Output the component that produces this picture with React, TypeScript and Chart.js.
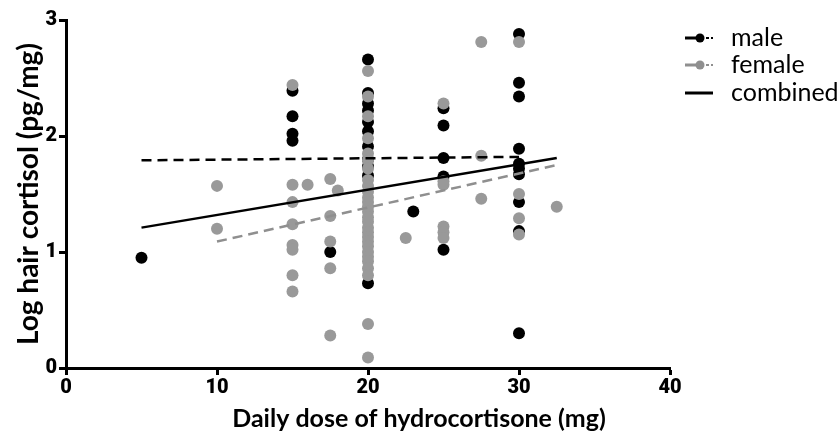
import { useEffect, useRef } from "react";
import { Chart, registerables } from "chart.js";

Chart.register(...registerables);

// Daily hydrocortisone dose (mg) and log hair cortisol (pg/mg), men
const maleDose = [
  5,
  15, 15, 15, 15,
  17.5,
  20, 20, 20, 20, 20, 20, 20, 20, 20, 20, 20,
  23,
  25, 25, 25, 25, 25,
  30, 30, 30, 30, 30, 30, 30, 30, 30, 30,
];
const maleCortisol = [
  0.95,
  2.39, 2.17, 2.02, 1.96,
  1.0,
  2.66, 2.37, 2.28, 2.22, 2.12, 2.04, 1.91, 1.8, 1.74, 1.66, 0.73,
  1.35,
  2.24, 2.09, 1.81, 1.65, 1.02,
  2.88, 2.46, 2.34, 1.89, 1.76, 1.72, 1.67, 1.43, 1.18, 0.3,
];

// Same measures, women
const femaleDose = [
  10, 10,
  15, 15, 15, 15, 15, 15, 15, 15,
  16,
  17.5, 17.5, 17.5, 17.5, 17.5,
  18,
  20, 20, 20, 20, 20, 20, 20, 20, 20, 20, 20, 20, 20, 20,
  20, 20, 20, 20, 20, 20, 20, 20, 20, 20, 20, 20, 20, 20,
  22.5,
  25, 25, 25, 25, 25, 25,
  27.5, 27.5, 27.5,
  30, 30, 30, 30,
  32.5,
];
const femaleCortisol = [
  1.57, 1.2,
  2.44, 1.58, 1.43, 1.24, 1.06, 1.02, 0.8, 0.66,
  1.58,
  1.63, 1.31, 1.09, 0.86, 0.28,
  1.53,
  2.56, 2.34, 2.17, 1.98, 1.85, 1.79, 1.72, 1.62, 1.57, 1.52, 1.47, 1.43, 1.39, 1.35,
  1.3, 1.26, 1.21, 1.17, 1.13, 1.09, 1.05, 1.0, 0.96, 0.92, 0.86, 0.8, 0.38, 0.09,
  1.12,
  2.28, 1.61, 1.58, 1.22, 1.17, 1.12,
  2.81, 1.83, 1.46,
  2.81, 1.5, 1.29, 1.15,
  1.39,
];

// Linear regression fits (end points)
const maleFitDose = [5, 30];
const maleFitValue = [1.79, 1.82];
const femaleFitDose = [10, 32.5];
const femaleFitValue = [1.09, 1.75];
const combinedFitDose = [5, 32.5];
const combinedFitValue = [1.21, 1.81];

const xTickValues = [0, 10, 20, 30, 40];
const yTickValues = [0, 1, 2, 3];
const legendLabels = ["male", "female", "combined"];
const xTitle = "Daily dose of hydrocortisone (mg)";
const yTitle = "Log hair cortisol (pg/mg)";

const BLACK = "#000000";
const GREY = "#999999";
const GREY_LINE = "#8f8f8f";
const FONT = "Lato, 'Open Sans', sans-serif";
const TICK_FONT = "Roboto, Lato, sans-serif";

const toPoints = (xs: number[], ys: number[]) => xs.map((x, i) => ({ x, y: ys[i] }));

// Legend at the right and the x-axis title centred on the full canvas width
const annotationPlugin = {
  id: "sexLegend",
  afterDraw(chart: Chart) {
    const { ctx, chartArea, width, height } = chart;
    const x0 = chartArea.right + 15;
    const rowY = [chartArea.top + 18, chartArea.top + 45, chartArea.top + 73];
    const colors = [BLACK, GREY_LINE, BLACK];
    ctx.save();
    legendLabels.forEach((label, i) => {
      const y = rowY[i];
      const c = colors[i];
      ctx.strokeStyle = c;
      ctx.fillStyle = c;
      ctx.lineWidth = 3;
      ctx.setLineDash([]);
      if (i < 2) {
        ctx.beginPath();
        ctx.moveTo(x0, y);
        ctx.lineTo(x0 + 12, y);
        ctx.stroke();
        ctx.beginPath();
        ctx.arc(x0 + 15, y, 4.5, 0, Math.PI * 2);
        ctx.fill();
        ctx.lineWidth = 2;
        ctx.beginPath();
        ctx.moveTo(x0 + 21, y);
        ctx.lineTo(x0 + 24, y);
        ctx.moveTo(x0 + 26, y);
        ctx.lineTo(x0 + 28, y);
        ctx.stroke();
      } else {
        ctx.beginPath();
        ctx.moveTo(x0, y);
        ctx.lineTo(x0 + 28, y);
        ctx.stroke();
      }
      ctx.fillStyle = BLACK;
      ctx.font = `25px ${FONT}`;
      ctx.textBaseline = "middle";
      ctx.textAlign = "left";
      ctx.fillText(label, x0 + 46, y);
    });

    ctx.fillStyle = BLACK;
    ctx.font = `bold 25px ${FONT}`;
    ctx.textAlign = "center";
    ctx.textBaseline = "middle";
    ctx.fillText(xTitle, width / 2, height - 20);
    ctx.restore();
  },
};

export default function App() {
  const canvasRef = useRef<HTMLCanvasElement | null>(null);

  useEffect(() => {
    const canvas = canvasRef.current;
    if (!canvas) return;

    const axisGrid = {
      display: true,
      drawOnChartArea: false,
      drawTicks: true,
      tickLength: 7,
      tickColor: BLACK,
      tickWidth: 3,
      color: BLACK,
    };

    const tickFont = { family: TICK_FONT, size: 20, weight: "900" };

    const chart = new Chart(canvas, {
      type: "scatter",
      data: {
        datasets: [
          {
            label: "male fit",
            data: toPoints(maleFitDose, maleFitValue),
            showLine: true,
            borderColor: BLACK,
            borderWidth: 2.5,
            borderDash: [10, 6],
            pointRadius: 0,
            order: 1,
          },
          {
            label: "female fit",
            data: toPoints(femaleFitDose, femaleFitValue),
            showLine: true,
            borderColor: GREY_LINE,
            borderWidth: 2.5,
            borderDash: [10, 6],
            pointRadius: 0,
            order: 1,
          },
          {
            label: "combined fit",
            data: toPoints(combinedFitDose, combinedFitValue),
            showLine: true,
            borderColor: BLACK,
            borderWidth: 2.5,
            pointRadius: 0,
            order: 1,
          },
          {
            label: "female",
            data: toPoints(femaleDose, femaleCortisol),
            backgroundColor: GREY,
            borderWidth: 0,
            pointRadius: 6,
            order: 3,
          },
          {
            label: "male",
            data: toPoints(maleDose, maleCortisol),
            backgroundColor: BLACK,
            borderWidth: 0,
            pointRadius: 6,
            order: 4,
          },
        ],
      },
      options: {
        responsive: false,
        animation: false,
        events: [],
        layout: { padding: { left: 0, right: 168, top: 20, bottom: 0 } },
        plugins: {
          legend: { display: false },
          tooltip: { enabled: false },
        },
        scales: {
          x: {
            type: "linear",
            min: 0,
            max: 40,
            afterBuildTicks: (scale: any) => {
              scale.ticks = xTickValues.map((v) => ({ value: v }));
            },
            afterFit: (scale: any) => {
              scale.height = 71;
            },
            ticks: {
              color: BLACK,
              font: tickFont,
              padding: 1,
            },
            grid: axisGrid,
            border: { display: true, color: BLACK, width: 3 },
            title: { display: false },
          },
          y: {
            type: "linear",
            min: 0,
            max: 3,
            afterBuildTicks: (scale: any) => {
              scale.ticks = yTickValues.map((v) => ({ value: v }));
            },
            afterFit: (scale: any) => {
              scale.width = 66;
            },
            ticks: {
              color: BLACK,
              font: tickFont,
              padding: 2,
            },
            grid: axisGrid,
            border: { display: true, color: BLACK, width: 3 },
            title: {
              display: true,
              text: yTitle,
              color: BLACK,
              font: { family: FONT, size: 28, weight: "bold" },
              padding: { top: 12, bottom: 0 },
            },
          },
        },
      },
      plugins: [annotationPlugin],
    } as any);

    return () => chart.destroy();
  }, []);

  return (
    <div style={{ position: "absolute", left: 0, top: 0, width: 838, height: 439, background: "#fff" }}>
      <canvas ref={canvasRef} width={838} height={439} style={{ display: "block" }} />
    </div>
  );
}
